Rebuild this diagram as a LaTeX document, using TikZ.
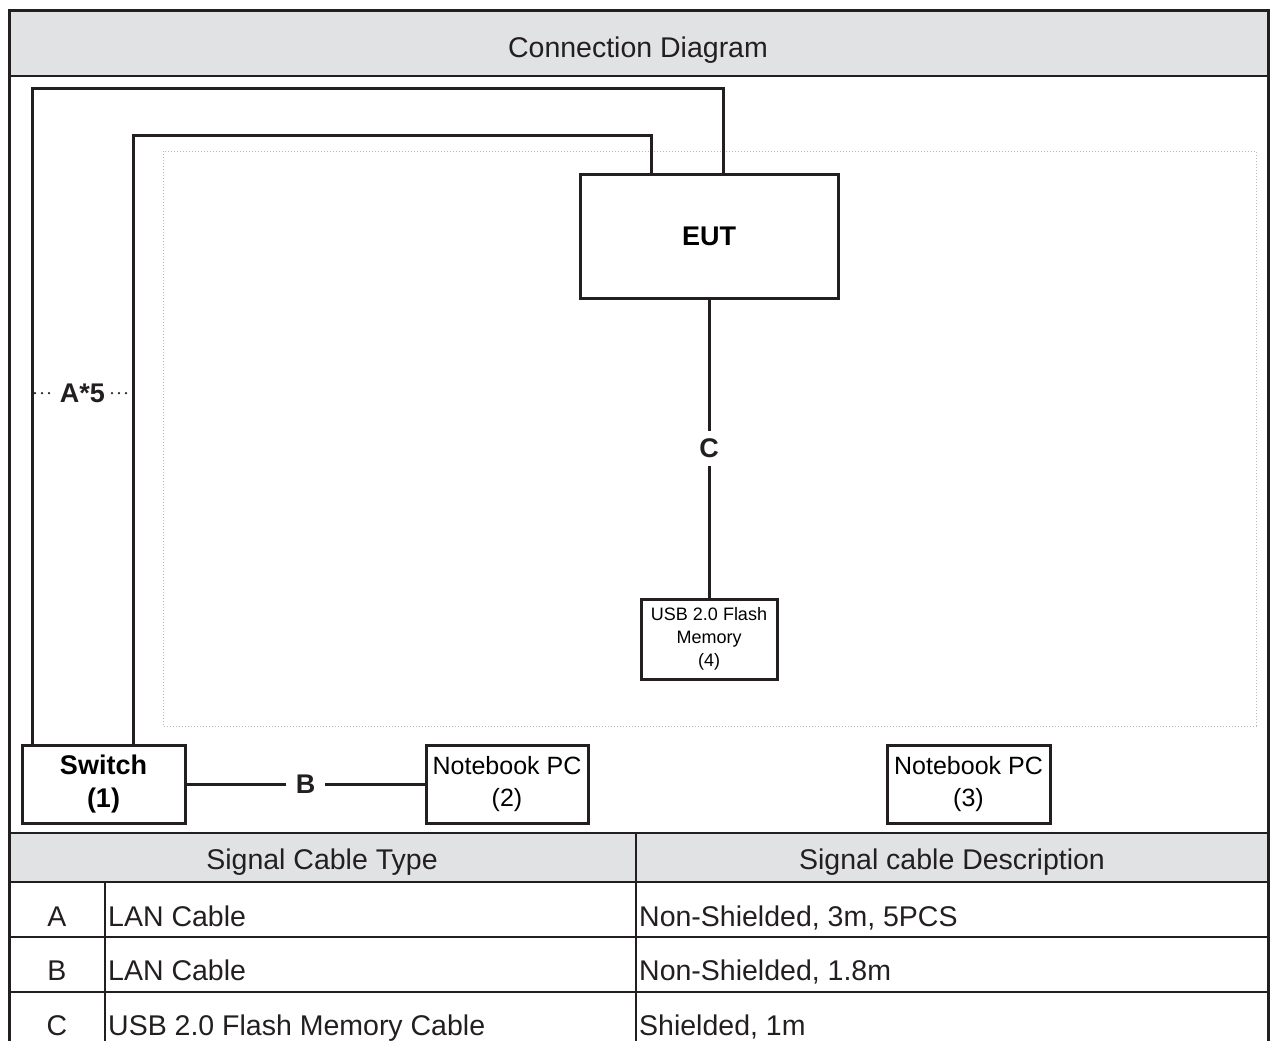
\documentclass[tikz,border=0pt]{standalone}
\usepackage{fontspec}
\setmainfont{Liberation Sans}
\usetikzlibrary{positioning}
\definecolor{headgray}{HTML}{E1E2E4}
\definecolor{ink}{HTML}{231F20}
\tikzset{unit/.style = {draw=ink, line width=3pt, fill=white, align=center, inner sep=0pt, outer sep=0pt},
         wire/.style = {draw=ink, line width=3pt},
         rule/.style = {draw=ink, line width=2.5pt},
         cell/.style = {font=\fontsize{28.5}{32}\selectfont, inner sep=0pt, text=ink},
         tag/.style = {fill=white, font=\bfseries\fontsize{27}{30}\selectfont, text=ink}}

\begin{document}
\begin{tikzpicture}[x=1pt, y=-1pt]
\useasboundingbox (0,0) rectangle (1271,1041);
% grey bands
\fill [headgray] (9,11) rectangle (1268,76);
\fill [headgray] (9,833) rectangle (1268,882);
\node [cell, anchor=base] (title) at (638,58) {Connection Diagram};
% test table
\draw [gray!55, dotted, line width=1pt] (163,151) rectangle (1256,726);
\node [unit, minimum width=258pt, minimum height=124pt, font=\bfseries\fontsize{27}{30}\selectfont] (eut) at (709,236) {EUT};
\node [unit, minimum width=136pt, minimum height=80pt, font=\fontsize{18}{23}\selectfont, below=301pt of eut] (usb) {USB 2.0 Flash\\Memory\\(4)};
\node [unit, minimum width=163pt, minimum height=78pt, font=\bfseries\fontsize{27}{33}\selectfont] (switch) at (103.5,784) {Switch\\(1)};
\node [unit, minimum width=162pt, minimum height=78pt, font=\fontsize{25}{32}\selectfont, right=241pt of switch] (nb2) {Notebook PC\\(2)};
\node [unit, minimum width=163pt, minimum height=78pt, font=\fontsize{25}{32}\selectfont, right=299pt of nb2] (nb3) {Notebook PC\\(3)};
% cables
\draw [wire] ([xshift=10pt]switch.north west) -- ++(0,-657) -| ([xshift=143pt]eut.north west);
\draw [wire] ([xshift=111pt]switch.north west) -- ++(0,-610) -| ([xshift=71pt]eut.north west);
\coordinate (a1) at (35,393);
\coordinate (a2) at (130,393);
\draw [ink, line width=2.5pt, line cap=round, dash pattern=on 0pt off 7pt] (a1) -- node [tag, inner xsep=5pt] {A*5} (a2);
\draw [wire] (switch) -- node [tag, inner xsep=10pt] {B} (nb2);
\draw [wire] (eut) -- node [tag, inner ysep=8pt] {C} (usb);
% frame and rules
\draw [rule, line width=3pt] (9,1041) -- (9,11) -- (1268,11) -- (1268,1041);
\foreach \y in {76,833,882,937,992}
  \draw [rule] (9,\y) -- (1268,\y);
\draw [rule] (636,833) -- (636,1041);
\draw [rule] (105,882) -- (105,1041);
\node [cell, anchor=base] (typehead) at (322,869) {Signal Cable Type};
\node [cell, anchor=base] (deschead) at (952,869) {Signal cable Description};
\foreach \k/\t/\d/\y in {A/LAN Cable/{Non-Shielded, 3m, 5PCS}/926,
                         B/LAN Cable/{Non-Shielded, 1.8m}/980,
                         C/USB 2.0 Flash Memory Cable/{Shielded, 1m}/1035}
{
  \node [cell, anchor=base] (key\k) at (57,\y) {\k};
  \node [cell, anchor=base west] (type\k) at (108,\y) {\t};
  \node [cell, anchor=base west] (desc\k) at (639,\y) {\d};
}
\end{tikzpicture}
\end{document}
